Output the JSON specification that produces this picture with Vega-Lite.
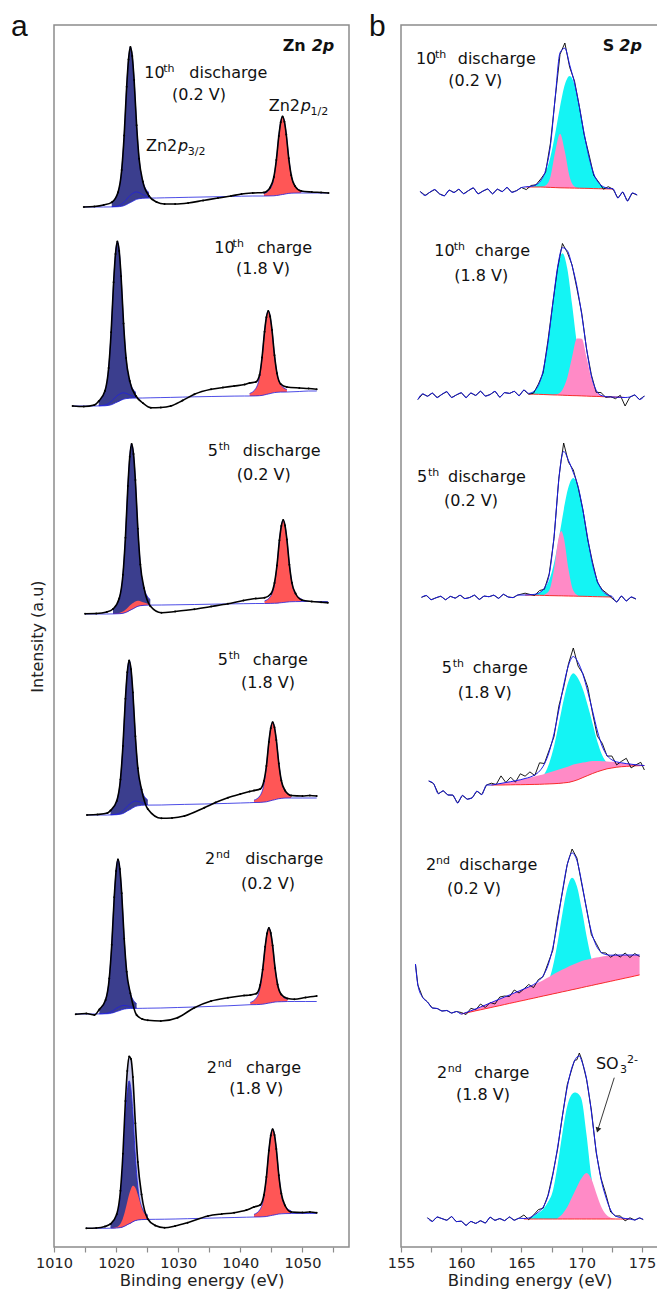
{
"$schema": "https://vega.github.io/schema/vega-lite/v6.json",
"padding": {"left": 10, "top": 11, "right": 0, "bottom": 0},
"bounds": "flush",
"spacing": 52,
"config": {
 "font": "DejaVu Sans",
 "view": {"stroke": "#8c8c8c", "strokeWidth": 1.5},
 "area": {"opacity": 1, "fillOpacity": 1},
 "axisX": {"grid": false, "domain": false, "tickColor": "#8c8c8c", "tickSize": 5, "tickWidth": 1.2, "labelFont": "DejaVu Sans", "labelFontSize": 14.5, "labelColor": "#222", "labelPadding": 4, "labelFlush": false, "labelOverlap": false, "titleFont": "DejaVu Sans", "titleFontSize": 16.5, "titleFontWeight": "normal", "titleColor": "#222", "titlePadding": 3},
 "axisY": {"grid": false, "domain": false, "ticks": false, "labels": false, "titleFont": "DejaVu Sans", "titleFontSize": 16, "titleFontWeight": "normal", "titleColor": "#222", "titlePadding": 9}
},
"datasets": {
"zn": [
{"k":1,"x":1014.8,"d":1040,"g":1040},{"k":1,"x":1016.5,"d":1040.5,"g":1040},{"k":1,"x":1018,"d":1042,"g":1040},
{"k":1,"x":1019.3,"d":1044.7,"g":1040.1,"c":1044.7,"m":1040.3},{"k":1,"x":1020.3,"d":1054.6,"g":1040.3,"c":1054.6,"m":1041.2},
{"k":1,"x":1020.9,"d":1076.9,"g":1040.7,"c":1076.9,"m":1043},{"k":1,"x":1021.3,"d":1111.6,"g":1041.4,"c":1111.6,"m":1045},
{"k":1,"x":1021.7,"d":1160.2,"g":1042.5,"c":1160.2,"m":1047.8},{"k":1,"x":1022,"d":1187.6,"g":1043.6,"c":1187.6,"m":1050},
{"k":1,"x":1022.3,"d":1199.9,"g":1044.5,"c":1199.9,"m":1051.9},{"k":1,"x":1022.6,"d":1190.9,"g":1045.4,"c":1190.9,"m":1053.3},
{"k":1,"x":1022.9,"d":1166.9,"g":1046.5,"c":1166.9,"m":1054.4},{"k":1,"x":1023.3,"d":1121.7,"g":1047.7,"c":1121.7,"m":1055.1},
{"k":1,"x":1023.7,"d":1088.3,"g":1048.3,"c":1088.3,"m":1054.3},{"k":1,"x":1024.3,"d":1065.6,"g":1048.7,"c":1065.6,"m":1052.3},
{"k":1,"x":1025.3,"d":1051,"g":1048.9,"c":1054.3,"m":1049.8},
{"k":1,"x":1026.5,"d":1045,"g":1049},{"k":1,"x":1027.8,"d":1043,"g":1049.2},{"k":1,"x":1029.5,"d":1043,"g":1049.4},
{"k":1,"x":1031.6,"d":1044,"g":1049.7},{"k":1,"x":1034,"d":1046.5,"g":1050},{"k":1,"x":1036.4,"d":1049,"g":1050.3},
{"k":1,"x":1038.5,"d":1051,"g":1050.6},{"k":1,"x":1040.2,"d":1053,"g":1050.8},{"k":1,"x":1042,"d":1054,"g":1051},
{"k":1,"x":1043.8,"d":1054.5,"g":1051,"r":1053.3},{"k":1,"x":1044.8,"d":1059.5,"g":1051.1,"r":1058.1},
{"k":1,"x":1045.4,"d":1070,"g":1051.2,"r":1069.1},{"k":1,"x":1045.8,"d":1087,"g":1051.5,"r":1086.6},
{"k":1,"x":1046.2,"d":1111.1,"g":1051.8,"r":1111.1},{"k":1,"x":1046.5,"d":1124.7,"g":1052.2,"r":1124.7},
{"k":1,"x":1046.8,"d":1130.5,"g":1052.5,"r":1130.5},{"k":1,"x":1047.1,"d":1125.3,"g":1052.8,"r":1125.3},
{"k":1,"x":1047.4,"d":1112.5,"g":1053.2,"r":1112.5},{"k":1,"x":1047.8,"d":1088.7,"g":1053.6,"r":1088.7},
{"k":1,"x":1048.2,"d":1071.7,"g":1053.8,"r":1071.7},{"k":1,"x":1048.8,"d":1060.9,"g":1053.9,"r":1060.9},
{"k":1,"x":1049.8,"d":1056,"g":1054,"r":1056.3},{"k":1,"x":1051.5,"d":1055,"g":1054},{"k":1,"x":1053,"d":1054.5,"g":1054},{"k":1,"x":1054.2,"d":1054,"g":1054},

{"k":2,"x":1013,"d":841,"g":841},{"k":2,"x":1014.8,"d":840.5,"g":841},{"k":2,"x":1016.5,"d":842,"g":841},
{"k":2,"x":1017.2,"d":845.8,"g":841.1,"c":845.8,"m":841.2},{"k":2,"x":1018.2,"d":855.9,"g":841.2,"c":855.9,"m":842},
{"k":2,"x":1018.8,"d":879,"g":841.6,"c":879,"m":843.6},{"k":2,"x":1019.2,"d":914.7,"g":842.2,"c":914.7,"m":845.4},
{"k":2,"x":1019.6,"d":964.8,"g":843.2,"c":964.8,"m":847.8},{"k":2,"x":1019.9,"d":993,"g":844.2,"c":993,"m":849.8},
{"k":2,"x":1020.2,"d":1005.4,"g":845,"c":1005.4,"m":851.4},{"k":2,"x":1020.5,"d":995.9,"g":845.8,"c":995.9,"m":852.7},
{"k":2,"x":1020.8,"d":970.7,"g":846.8,"c":970.7,"m":853.7},{"k":2,"x":1021.2,"d":923.5,"g":847.8,"c":923.5,"m":854.2},
{"k":2,"x":1021.6,"d":889.1,"g":848.4,"c":889.1,"m":853.7},{"k":2,"x":1022.2,"d":865.9,"g":848.8,"c":865.9,"m":852},
{"k":2,"x":1023.2,"d":851,"g":848.9,"c":854.3,"m":849.7},
{"k":2,"x":1024.3,"d":844,"g":849},{"k":2,"x":1025.6,"d":839.3,"g":849.2},{"k":2,"x":1027.2,"d":839.5,"g":849.4},
{"k":2,"x":1028.8,"d":841,"g":849.6},{"k":2,"x":1030.7,"d":846.5,"g":849.9},{"k":2,"x":1032.6,"d":852.7,"g":850.2},
{"k":2,"x":1035.3,"d":857.7,"g":850.5},{"k":2,"x":1037.2,"d":859.5,"g":850.7},{"k":2,"x":1039,"d":861,"g":850.9},{"k":2,"x":1040.7,"d":862.5,"g":851},
{"k":2,"x":1041.5,"d":864,"g":851,"r":853.5},{"k":2,"x":1042.5,"d":865,"g":851.1,"r":858.6},
{"k":2,"x":1043.1,"d":872,"g":851.3,"r":870.4},{"k":2,"x":1043.5,"d":889.5,"g":851.6,"r":889},
{"k":2,"x":1043.9,"d":915.2,"g":852.1,"r":915.2},{"k":2,"x":1044.2,"d":929.8,"g":852.6,"r":929.8},
{"k":2,"x":1044.5,"d":936,"g":853,"r":936},{"k":2,"x":1044.8,"d":930.6,"g":853.4,"r":930.6},
{"k":2,"x":1045.1,"d":917,"g":853.9,"r":917},{"k":2,"x":1045.5,"d":891.8,"g":854.4,"r":891.8},
{"k":2,"x":1045.9,"d":873.8,"g":854.7,"r":873.8},{"k":2,"x":1046.5,"d":863,"g":854.9,"r":862.4},
{"k":2,"x":1047.5,"d":860,"g":855,"r":857.5},{"k":2,"x":1049.5,"d":859,"g":855.5},{"k":2,"x":1051,"d":858.5,"g":856},{"k":2,"x":1052.3,"d":857.7,"g":856},

{"k":3,"x":1015,"d":633.3,"g":633},{"k":3,"x":1016.8,"d":633.5,"g":633},{"k":3,"x":1018.5,"d":635,"g":633},
{"k":3,"x":1019.5,"d":638,"g":633.1,"c":638,"m":633.2},{"k":3,"x":1020.5,"d":648.4,"g":633.3,"c":648.4,"m":634},
{"k":3,"x":1021.1,"d":672.2,"g":633.7,"c":672.2,"m":635.4},{"k":3,"x":1021.5,"d":709.2,"g":634.4,"c":709.2,"m":637.2},
{"k":3,"x":1021.9,"d":761.1,"g":635.5,"c":761.1,"m":639.5},{"k":3,"x":1022.2,"d":790.2,"g":636.6,"c":790.2,"m":641.4},
{"k":3,"x":1022.5,"d":803,"g":637.5,"c":803,"m":643},{"k":3,"x":1022.8,"d":793.1,"g":638.4,"c":793.1,"m":644.3},
{"k":3,"x":1023.1,"d":767,"g":639.5,"c":767,"m":645.4},{"k":3,"x":1023.5,"d":718.2,"g":640.7,"c":718.2,"m":646.2},
{"k":3,"x":1023.9,"d":682.6,"g":641.3,"c":682.6,"m":645.8},{"k":3,"x":1024.5,"d":658.8,"g":641.7,"c":658.8,"m":644.4},
{"k":3,"x":1025.5,"d":641,"g":641.9,"c":647.4,"m":642.6},
{"k":3,"x":1027.3,"d":634.3,"g":642},{"k":3,"x":1029.5,"d":635.5,"g":642.2},{"k":3,"x":1032.6,"d":637.7,"g":642.5},
{"k":3,"x":1035.3,"d":640.5,"g":642.8},{"k":3,"x":1038,"d":643.3,"g":643.1},{"k":3,"x":1040.5,"d":646.5,"g":643.3},{"k":3,"x":1042.5,"d":648.5,"g":643.5},
{"k":3,"x":1043.9,"d":649.3,"g":643.5,"r":646},{"k":3,"x":1044.9,"d":653,"g":643.6,"r":651},
{"k":3,"x":1045.5,"d":664,"g":643.7,"r":662.7},{"k":3,"x":1045.9,"d":681.5,"g":643.8,"r":680.9},
{"k":3,"x":1046.3,"d":706.8,"g":644.1,"r":706.8},{"k":3,"x":1046.6,"d":721,"g":644.3,"r":721},
{"k":3,"x":1046.9,"d":727,"g":644.5,"r":727},{"k":3,"x":1047.2,"d":721.4,"g":644.7,"r":721.4},
{"k":3,"x":1047.5,"d":707.6,"g":644.9,"r":707.6},{"k":3,"x":1047.9,"d":682.3,"g":645.2,"r":682.3},
{"k":3,"x":1048.3,"d":664.3,"g":645.3,"r":664.3},{"k":3,"x":1048.9,"d":653.5,"g":645.4,"r":652.8},
{"k":3,"x":1049.9,"d":647,"g":645.5,"r":648},{"k":3,"x":1051.5,"d":645.5,"g":645.5},{"k":3,"x":1053,"d":644.8,"g":645.5},{"k":3,"x":1054.1,"d":644.3,"g":645.5},

{"k":4,"x":1015.3,"d":432,"g":432},{"k":4,"x":1017,"d":432.5,"g":432},{"k":4,"x":1018.6,"d":434,"g":432},
{"k":4,"x":1019.1,"d":436.5,"g":432.1,"c":436.5,"m":432.2},{"k":4,"x":1020.1,"d":446,"g":432.3,"c":446,"m":433},
{"k":4,"x":1020.7,"d":467.6,"g":432.8,"c":467.6,"m":434.5},{"k":4,"x":1021.1,"d":501.1,"g":433.5,"c":501.1,"m":436.3},
{"k":4,"x":1021.5,"d":548.2,"g":434.8,"c":548.2,"m":438.8},{"k":4,"x":1021.8,"d":574.7,"g":436,"c":574.7,"m":440.8},
{"k":4,"x":1022.1,"d":586.5,"g":437,"c":586.5,"m":442.5},{"k":4,"x":1022.4,"d":577.8,"g":438,"c":577.8,"m":443.9},
{"k":4,"x":1022.7,"d":554.5,"g":439.2,"c":554.5,"m":445.1},{"k":4,"x":1023.1,"d":510.8,"g":440.5,"c":510.8,"m":446},
{"k":4,"x":1023.5,"d":478.8,"g":441.2,"c":478.8,"m":445.7},{"k":4,"x":1024.1,"d":457.4,"g":441.7,"c":457.4,"m":444.4},
{"k":4,"x":1025.1,"d":438,"g":441.9,"c":446.9,"m":442.6},
{"k":4,"x":1027.3,"d":428.7,"g":442},{"k":4,"x":1029,"d":429,"g":442.3},{"k":4,"x":1031,"d":431,"g":442.6},
{"k":4,"x":1034.2,"d":439.3,"g":443},{"k":4,"x":1036,"d":444.5,"g":443.3},{"k":4,"x":1038,"d":449.3,"g":443.6},
{"k":4,"x":1040,"d":453,"g":444},{"k":4,"x":1041.5,"d":455.5,"g":444.3},
{"k":4,"x":1042.2,"d":456.5,"g":444.5,"r":446.8},{"k":4,"x":1043.2,"d":458,"g":444.6,"r":451.6},
{"k":4,"x":1043.8,"d":466,"g":444.9,"r":462.8},{"k":4,"x":1044.2,"d":481,"g":445.2,"r":480.3},
{"k":4,"x":1044.6,"d":505.1,"g":445.8,"r":505.1},{"k":4,"x":1044.9,"d":518.8,"g":446.3,"r":518.8},
{"k":4,"x":1045.2,"d":524.8,"g":446.8,"r":524.8},{"k":4,"x":1045.5,"d":519.7,"g":447.2,"r":519.7},
{"k":4,"x":1045.8,"d":507,"g":447.7,"r":507},{"k":4,"x":1046.2,"d":483.4,"g":448.3,"r":483.4},
{"k":4,"x":1046.6,"d":466.5,"g":448.6,"r":466.5},{"k":4,"x":1047.2,"d":456.5,"g":448.9,"r":455.9},
{"k":4,"x":1048.2,"d":451.5,"g":449,"r":451.3},{"k":4,"x":1050,"d":451,"g":449},{"k":4,"x":1051.2,"d":451.5,"g":449},{"k":4,"x":1052.3,"d":451,"g":449},

{"k":5,"x":1013.5,"d":232.7,"g":233},{"k":5,"x":1015.2,"d":233.5,"g":233},{"k":5,"x":1016.5,"d":232,"g":233},
{"k":5,"x":1017.3,"d":237.6,"g":233.1,"c":237.6,"m":233.2},{"k":5,"x":1018.3,"d":246.9,"g":233.2,"c":246.9,"m":233.6},
{"k":5,"x":1018.9,"d":268.6,"g":233.4,"c":268.6,"m":234.6},{"k":5,"x":1019.3,"d":302.3,"g":233.9,"c":302.3,"m":235.7},
{"k":5,"x":1019.7,"d":349.7,"g":234.6,"c":349.7,"m":237.2},{"k":5,"x":1020,"d":376.1,"g":235.3,"c":376.1,"m":238.5},
{"k":5,"x":1020.3,"d":387.6,"g":235.9,"c":387.6,"m":239.6},{"k":5,"x":1020.6,"d":378.1,"g":236.5,"c":378.1,"m":240.5},
{"k":5,"x":1020.9,"d":353.7,"g":237.2,"c":353.7,"m":241.2},{"k":5,"x":1021.3,"d":308.2,"g":237.9,"c":308.2,"m":241.6},
{"k":5,"x":1021.7,"d":275.3,"g":238.3,"c":275.3,"m":241.3},{"k":5,"x":1022.3,"d":253.7,"g":238.6,"c":253.7,"m":240.4},
{"k":5,"x":1023.3,"d":232,"g":238.6,"c":243.4,"m":239},
{"k":5,"x":1024.2,"d":228,"g":238.7},{"k":5,"x":1025.1,"d":226.7,"g":238.8},{"k":5,"x":1027.2,"d":226,"g":239},
{"k":5,"x":1029.9,"d":229.3,"g":239.5},{"k":5,"x":1032.6,"d":239.3,"g":240},{"k":5,"x":1035.3,"d":246,"g":240.6},
{"k":5,"x":1038,"d":249.3,"g":241.2},{"k":5,"x":1040.6,"d":251.5,"g":242},
{"k":5,"x":1041.6,"d":252,"g":242.3,"r":244.6},{"k":5,"x":1042.6,"d":253.5,"g":242.4,"r":249.2},
{"k":5,"x":1043.2,"d":262,"g":242.6,"r":259.9},{"k":5,"x":1043.6,"d":277.5,"g":242.8,"r":276.6},
{"k":5,"x":1044,"d":300.2,"g":243.2,"r":300.2},{"k":5,"x":1044.3,"d":313.4,"g":243.6,"r":313.4},
{"k":5,"x":1044.6,"d":318.9,"g":243.9,"r":318.9},{"k":5,"x":1044.9,"d":314,"g":244.2,"r":314},
{"k":5,"x":1045.2,"d":301.6,"g":244.6,"r":301.6},{"k":5,"x":1045.6,"d":278.8,"g":245,"r":278.8},
{"k":5,"x":1046,"d":262.5,"g":245.2,"r":262.5},{"k":5,"x":1046.6,"d":252.5,"g":245.3,"r":252.1},
{"k":5,"x":1047.6,"d":248.5,"g":245.5,"r":247.8},{"k":5,"x":1048.7,"d":247.7,"g":245.5},{"k":5,"x":1050.5,"d":249.5,"g":245.5},{"k":5,"x":1052.3,"d":251,"g":245.5},

{"k":6,"x":1015.2,"d":18.7,"g":18.7},{"k":6,"x":1016.8,"d":19,"g":18.7},{"k":6,"x":1018.2,"d":20.5,"g":18.7},
{"k":6,"x":1019.1,"d":23.1,"g":18.8,"c":23.1,"m":18.8},{"k":6,"x":1020.1,"d":32.8,"g":19,"c":31.9,"m":19.9},
{"k":6,"x":1020.7,"d":56.2,"g":19.4,"c":52.3,"m":23.3},{"k":6,"x":1021.1,"d":93.2,"g":20.1,"c":84.5,"m":28.8},
{"k":6,"x":1021.5,"d":146.1,"g":21.2,"c":129.9,"m":37.4},{"k":6,"x":1021.8,"d":176,"g":22.3,"c":155.3,"m":45.3},
{"k":6,"x":1022.1,"d":190.5,"g":23.2,"c":166.2,"m":52.7},{"k":6,"x":1022.4,"d":188,"g":24.1,"c":157.1,"m":58.3},
{"k":6,"x":1022.7,"d":169.9,"g":25.2,"c":133.9,"m":61.2},{"k":6,"x":1023.1,"d":123.7,"g":26.4,"c":90.8,"m":59.3},
{"k":6,"x":1023.5,"d":85.1,"g":27,"c":59.9,"m":52.2},{"k":6,"x":1024.1,"d":52.5,"g":27.4,"c":40.3,"m":39.6},
{"k":6,"x":1025.1,"d":28,"g":27.6,"c":31.9,"m":29.1},
{"k":6,"x":1026.3,"d":21.5,"g":27.7},{"k":6,"x":1027.8,"d":19.3,"g":27.8},{"k":6,"x":1029.5,"d":21,"g":28},
{"k":6,"x":1031.5,"d":24.3,"g":28.3},{"k":6,"x":1034.8,"d":31,"g":28.8},{"k":6,"x":1037,"d":33,"g":29.2},
{"k":6,"x":1039,"d":34.3,"g":29.5},{"k":6,"x":1041,"d":37,"g":29.8},
{"k":6,"x":1042.2,"d":40,"g":30,"r":32.6},{"k":6,"x":1043.2,"d":42,"g":30.1,"r":37.8},
{"k":6,"x":1043.8,"d":52,"g":30.3,"r":50.1},{"k":6,"x":1044.2,"d":70,"g":30.5,"r":69.2},
{"k":6,"x":1044.6,"d":96.4,"g":31,"r":96.4},{"k":6,"x":1044.9,"d":111.4,"g":31.4,"r":111.4},
{"k":6,"x":1045.2,"d":117.8,"g":31.8,"r":117.8},{"k":6,"x":1045.5,"d":112.1,"g":32.1,"r":112.1},
{"k":6,"x":1045.8,"d":97.9,"g":32.5,"r":97.9},{"k":6,"x":1046.2,"d":71.7,"g":33,"r":71.7},
{"k":6,"x":1046.6,"d":53.5,"g":33.2,"r":53},{"k":6,"x":1047.2,"d":41.5,"g":33.4,"r":41.1},
{"k":6,"x":1048.2,"d":35,"g":33.5,"r":36.1},{"k":6,"x":1050,"d":34.5,"g":33.5},{"k":6,"x":1051.2,"d":35,"g":33.5},{"k":6,"x":1052.3,"d":34.3,"g":33.5}
],
"s": [
{"k":7,"x":156.6,"d":1055.5,"f":1055.5},{"k":7,"x":157,"d":1051.6,"f":1051.6},{"k":7,"x":157.4,"d":1054.8,"f":1054.8},
{"k":7,"x":157.8,"d":1057.4,"f":1057.4},{"k":7,"x":158.2,"d":1053.1,"f":1053.1},{"k":7,"x":158.6,"d":1051.2,"f":1051.2},
{"k":7,"x":159,"d":1056.9,"f":1056.9},{"k":7,"x":159.4,"d":1054.5,"f":1054.5},{"k":7,"x":159.8,"d":1057.7,"f":1057.7},
{"k":7,"x":160.2,"d":1053.3,"f":1053.3},{"k":7,"x":160.6,"d":1056.4,"f":1056.4},{"k":7,"x":161,"d":1059.1,"f":1059.1},
{"k":7,"x":161.4,"d":1053.2,"f":1053.2},{"k":7,"x":161.8,"d":1055.9,"f":1055.9},{"k":7,"x":162.2,"d":1058,"f":1058},
{"k":7,"x":162.6,"d":1053.2,"f":1053.2},{"k":7,"x":163,"d":1057.8,"f":1057.8},{"k":7,"x":163.4,"d":1055.4,"f":1055.4},
{"k":7,"x":163.8,"d":1059.6,"f":1059.6},{"k":7,"x":164.2,"d":1054.7,"f":1054.7},{"k":7,"x":164.6,"d":1056.4,"f":1056.4},
{"k":7,"x":165,"d":1059.5,"f":1059.5},
{"k":7,"x":165.4,"d":1057.4,"f":1060.2,"g":1060,"c":1060.2},{"k":7,"x":165.8,"d":1061.5,"f":1060.7,"g":1060,"c":1060.7},
{"k":7,"x":166.2,"d":1062.2,"f":1062.2,"g":1060,"c":1062.2},{"k":7,"x":166.6,"d":1068,"f":1066.4,"g":1060,"c":1066.3,"r":1060.1},
{"k":7,"x":167,"d":1074.7,"f":1076.7,"g":1059.8,"c":1075.1,"r":1061.6},{"k":7,"x":167.4,"d":1103.6,"f":1101.2,"g":1059.6,"c":1090.1,"r":1070.1},
{"k":7,"x":167.8,"d":1149.1,"f":1149.9,"g":1059.4,"c":1113.5,"r":1095.4},{"k":7,"x":168.2,"d":1192.7,"f":1194.3,"g":1059.2,"c":1140.3,"r":1113.2},
{"k":7,"x":168.6,"d":1204,"f":1198.8,"g":1059.1,"c":1162.4,"r":1095.4},{"k":7,"x":169,"d":1179.7,"f":1182.1,"g":1059,"c":1171,"r":1070.1},
{"k":7,"x":169.4,"d":1166,"f":1164,"g":1058.9,"c":1162.4,"r":1060.6},{"k":7,"x":169.8,"d":1140.7,"f":1140.3,"g":1058.8,"c":1140.3,"r":1058.8},
{"k":7,"x":170.2,"d":1112.3,"f":1113.5,"g":1058.7,"c":1113.5},{"k":7,"x":170.6,"d":1092.5,"f":1090.1,"g":1058.6,"c":1090.1},
{"k":7,"x":171,"d":1071.5,"f":1073.1,"g":1058.4,"c":1073.1},{"k":7,"x":171.4,"d":1065.1,"f":1064.3,"g":1058.3,"c":1064.3},
{"k":7,"x":171.8,"d":1057.8,"f":1060.2,"g":1058.2,"c":1060.2},{"k":7,"x":172.2,"d":1060.3,"f":1058.7,"g":1058.1,"c":1058.7},
{"k":7,"x":172.6,"d":1057.8,"f":1058.2,"g":1058,"c":1058.2},
{"k":7,"x":173,"d":1049,"f":1049},{"k":7,"x":173.4,"d":1055,"f":1055},{"k":7,"x":173.8,"d":1046,"f":1046},
{"k":7,"x":174.2,"d":1054,"f":1054},{"k":7,"x":174.6,"d":1052,"f":1052},

{"k":8,"x":156.4,"d":847.5,"f":847.5},{"k":8,"x":156.8,"d":853.1,"f":853.1},{"k":8,"x":157.2,"d":850.8,"f":850.8},
{"k":8,"x":157.6,"d":853.9,"f":853.9},{"k":8,"x":158,"d":849.5,"f":849.5},{"k":8,"x":158.4,"d":852.7,"f":852.7},
{"k":8,"x":158.8,"d":855.3,"f":855.3},{"k":8,"x":159.2,"d":849.5,"f":849.5},{"k":8,"x":159.6,"d":852.1,"f":852.1},
{"k":8,"x":160,"d":854.2,"f":854.2},{"k":8,"x":160.4,"d":849.4,"f":849.4},{"k":8,"x":160.8,"d":854,"f":854},
{"k":8,"x":161.2,"d":851.6,"f":851.6},{"k":8,"x":161.6,"d":855.8,"f":855.8},{"k":8,"x":162,"d":850.9,"f":850.9},
{"k":8,"x":162.4,"d":852.5,"f":852.5},{"k":8,"x":162.8,"d":855.7,"f":855.7},{"k":8,"x":163.2,"d":849.8,"f":849.8},
{"k":8,"x":163.6,"d":854.4,"f":854.4},{"k":8,"x":164,"d":853.6,"f":853.6},{"k":8,"x":164.4,"d":855.7,"f":855.7},
{"k":8,"x":164.8,"d":851.3,"f":851.3},{"k":8,"x":165.2,"d":857,"f":857},
{"k":8,"x":165.6,"d":852.8,"f":853.6,"g":853,"c":853.6},{"k":8,"x":166,"d":853.8,"f":855.4,"g":852.8,"c":855.4},
{"k":8,"x":166.4,"d":862.8,"f":861.6,"g":852.7,"c":861.6},{"k":8,"x":166.8,"d":874.2,"f":876.6,"g":852.5,"c":876.6},
{"k":8,"x":167.2,"d":906.7,"f":904.7,"g":852.3,"c":904.7},{"k":8,"x":167.6,"d":943.9,"f":943.5,"g":852.1,"c":943.3,"r":852.3},
{"k":8,"x":168,"d":978.9,"f":980.1,"g":852,"c":979,"r":853.1},{"k":8,"x":168.4,"d":1003.5,"f":999.3,"g":851.8,"c":993.8,"r":857.3},
{"k":8,"x":168.8,"d":994.7,"f":996.3,"g":851.6,"c":978.6,"r":869.3},{"k":8,"x":169.2,"d":982,"f":981.2,"g":851.4,"c":942.6,"r":890},
{"k":8,"x":169.6,"d":958.4,"f":960.8,"g":851.3,"c":903.7,"r":908.4},{"k":8,"x":170,"d":933.9,"f":932.3,"g":851.1,"c":875.2,"r":908.2},
{"k":8,"x":170.4,"d":898,"f":898.4,"g":850.9,"c":859.8,"r":889.5},{"k":8,"x":170.8,"d":872.2,"f":871,"g":850.7,"c":853.3,"r":868.4},
{"k":8,"x":171.2,"d":854.7,"f":856.7,"g":850.6,"c":851.2,"r":856.1},{"k":8,"x":171.6,"d":854.4,"f":851.6,"g":850.4,"c":850.5,"r":851.5},
{"k":8,"x":172,"d":849.6,"f":850.4,"g":850.2,"r":850.4},{"k":8,"x":172.4,"d":850.4,"f":850,"g":850},
{"k":8,"x":172.8,"d":848.3,"f":849.9,"g":849.9},{"k":8,"x":173.2,"d":851.7,"f":849.7,"g":849.7},{"k":8,"x":173.6,"d":841,"f":849.5,"g":849.5},
{"k":8,"x":174,"d":850,"f":850},{"k":8,"x":174.4,"d":852,"f":852},{"k":8,"x":174.8,"d":847.5,"f":847.5},{"k":8,"x":175.2,"d":851,"f":851},

{"k":9,"x":156.7,"d":649.7,"f":649.7},{"k":9,"x":157.1,"d":651.5,"f":651.5},{"k":9,"x":157.5,"d":647.3,"f":647.3},
{"k":9,"x":157.9,"d":649.2,"f":649.2},{"k":9,"x":158.3,"d":650.7,"f":650.7},{"k":9,"x":158.7,"d":647.3,"f":647.3},
{"k":9,"x":159.1,"d":650.6,"f":650.6},{"k":9,"x":159.5,"d":648.9,"f":648.9},{"k":9,"x":159.9,"d":651.8,"f":651.8},
{"k":9,"x":160.3,"d":648.4,"f":648.4},{"k":9,"x":160.7,"d":649.5,"f":649.5},{"k":9,"x":161.1,"d":651.8,"f":651.8},
{"k":9,"x":161.5,"d":647.6,"f":647.6},{"k":9,"x":161.9,"d":650.9,"f":650.9},{"k":9,"x":162.3,"d":650.3,"f":650.3},
{"k":9,"x":162.7,"d":651.8,"f":651.8},{"k":9,"x":163.1,"d":648.7,"f":648.7},{"k":9,"x":163.5,"d":652.7,"f":652.7},
{"k":9,"x":163.9,"d":650,"f":650},{"k":9,"x":164.3,"d":649.4,"f":649.4},{"k":9,"x":164.7,"d":652,"f":652},
{"k":9,"x":165.3,"d":653.8,"f":652,"g":652,"c":652},{"k":9,"x":165.7,"d":652.6,"f":652.2,"g":651.9,"c":652.2},
{"k":9,"x":166.1,"d":651.6,"f":652.7,"g":651.8,"c":652.7},{"k":9,"x":166.5,"d":656.5,"f":654.4,"g":651.7,"c":654.4},
{"k":9,"x":166.9,"d":657.7,"f":659.1,"g":651.6,"c":658.6,"r":652.5},{"k":9,"x":167.3,"d":673.1,"f":672.4,"g":651.4,"c":666.9,"r":656.5},
{"k":9,"x":167.7,"d":708.4,"f":710.5,"g":651.3,"c":683.8,"r":677.7},{"k":9,"x":168.1,"d":768.8,"f":767.4,"g":651.2,"c":708.5,"r":709.9},
{"k":9,"x":168.3,"d":787.2,"f":787.6,"g":651.2,"c":722.6,"r":716},{"k":9,"x":168.5,"d":804,"f":795.6,"g":651.1,"c":736.7,"r":709.9},
{"k":9,"x":168.9,"d":784.8,"f":786.6,"g":651,"c":759.9,"r":677.7},{"k":9,"x":169.3,"d":777,"f":774.5,"g":650.9,"c":769,"r":656.5},
{"k":9,"x":169.7,"d":759.7,"f":760.4,"g":650.8,"c":759.9,"r":651.5},{"k":9,"x":170.1,"d":737.1,"f":736.7,"g":650.7,"c":736.7},
{"k":9,"x":170.5,"d":707.1,"f":708.5,"g":650.6,"c":708.5},{"k":9,"x":170.9,"d":684.6,"f":682.8,"g":650.4,"c":682.8},
{"k":9,"x":171.3,"d":664.8,"f":665.9,"g":650.3,"c":665.9},{"k":9,"x":171.7,"d":657.3,"f":656.6,"g":650.2,"c":656.6},
{"k":9,"x":172.1,"d":653.5,"f":652.4,"g":650.1,"c":652.4},{"k":9,"x":172.5,"d":648.9,"f":650.7,"g":650,"c":650.7},
{"k":9,"x":172.9,"d":645,"f":645},{"k":9,"x":173.3,"d":651,"f":651},{"k":9,"x":173.7,"d":646,"f":646},
{"k":9,"x":174.1,"d":650,"f":650},{"k":9,"x":174.5,"d":648,"f":648},

{"k":10,"x":157.3,"d":466,"f":466},{"k":10,"x":157.7,"d":463.5,"f":463.5},{"k":10,"x":158.1,"d":453.3,"f":453.3},
{"k":10,"x":158.5,"d":456.2,"f":456.2},{"k":10,"x":158.9,"d":452,"f":452},{"k":10,"x":159.3,"d":451.9,"f":451.9},
{"k":10,"x":159.7,"d":444,"f":444},{"k":10,"x":160.1,"d":451.6,"f":451.6},{"k":10,"x":160.5,"d":447.8,"f":447.8},
{"k":10,"x":160.9,"d":449.1,"f":449.1},{"k":10,"x":161.3,"d":455.8,"f":455.8},{"k":10,"x":161.7,"d":452.4,"f":452.4},
{"k":10,"x":162.1,"d":462,"f":462},
{"k":10,"x":162.5,"d":463.8,"f":462,"g":462,"r":462},{"k":10,"x":162.9,"d":462.5,"f":462.8,"g":462,"r":462.8},
{"k":10,"x":163.3,"d":471.1,"f":463.6,"g":462,"r":463.6},{"k":10,"x":163.7,"d":464.5,"f":464.5,"g":462.1,"r":464.5},
{"k":10,"x":164.1,"d":469.8,"f":465.3,"g":462.2,"r":465.3},{"k":10,"x":164.5,"d":464.8,"f":466.3,"g":462.3,"r":466.3},
{"k":10,"x":164.9,"d":473.2,"f":467.2,"g":462.3,"r":467.2},{"k":10,"x":165.3,"d":470.8,"f":468.5,"g":462.4,"r":468.3,"c":462.6},
{"k":10,"x":165.7,"d":475.1,"f":469.8,"g":462.5,"r":469.3,"c":463},{"k":10,"x":166.1,"d":471.4,"f":472.1,"g":462.6,"r":470.5,"c":464.2},
{"k":10,"x":166.5,"d":484.2,"f":475.9,"g":462.7,"r":471.7,"c":466.9},{"k":10,"x":166.9,"d":483.5,"f":483,"g":462.9,"r":473,"c":472.9},
{"k":10,"x":167.3,"d":496.9,"f":495.1,"g":463.1,"r":474.4,"c":483.8},{"k":10,"x":167.7,"d":510.4,"f":513.4,"g":463.3,"r":475.9,"c":500.8},
{"k":10,"x":168.1,"d":540.8,"f":537,"g":463.6,"r":477.4,"c":523.2},{"k":10,"x":168.5,"d":559.7,"f":561.9,"g":464.1,"r":479,"c":547},
{"k":10,"x":168.9,"d":583.1,"f":581.6,"g":464.6,"r":480.5,"c":565.7},{"k":10,"x":169.3,"d":599,"f":590.5,"g":465.8,"r":482.5,"c":573.8},
{"k":10,"x":169.7,"d":580.9,"f":584.6,"g":467.4,"r":483.5,"c":568.5},{"k":10,"x":170.1,"d":573.3,"f":572.5,"g":469.5,"r":484.5,"c":557.5},
{"k":10,"x":170.5,"d":559.8,"f":555.3,"g":471.5,"r":485.3,"c":541.5},{"k":10,"x":170.9,"d":533.8,"f":536,"g":473.5,"r":486,"c":523.5},
{"k":10,"x":171.3,"d":510.8,"f":516,"g":475.3,"r":486,"c":505.3},{"k":10,"x":171.7,"d":503.8,"f":500.8,"g":476.8,"r":485.8,"c":491.8},
{"k":10,"x":172.1,"d":490.9,"f":491.6,"g":478.2,"r":485.6,"c":484.2},{"k":10,"x":172.5,"d":491,"f":487.2,"g":479,"r":485.2,"c":481},
{"k":10,"x":172.9,"d":482.1,"f":485.1,"g":479.8,"r":484.6,"c":480.3},{"k":10,"x":173.3,"d":485.7,"f":484.2,"g":480.3,"r":484,"c":480.5},
{"k":10,"x":173.7,"d":488.7,"f":483.4,"g":480.6,"r":483.4},{"k":10,"x":174.1,"d":479.1,"f":482.8,"g":481,"r":482.8},
{"k":10,"x":174.5,"d":482.2,"f":482.2,"g":481.2,"r":482.2},{"k":10,"x":174.9,"d":484.7,"f":481.7,"g":481.4,"r":481.7},
{"k":10,"x":175.2,"d":477,"f":481.5,"g":481.5,"r":481.5},

{"k":11,"x":156.2,"d":283,"f":283},{"k":11,"x":156.4,"d":262,"f":262},{"k":11,"x":156.8,"d":249.5,"f":249.5},
{"k":11,"x":157.2,"d":245,"f":245},{"k":11,"x":157.6,"d":239,"f":239},{"k":11,"x":158,"d":238.5,"f":238.5},
{"k":11,"x":158.4,"d":236,"f":236},{"k":11,"x":158.8,"d":236.5,"f":236.5},{"k":11,"x":159.2,"d":234,"f":234},{"k":11,"x":159.6,"d":235.5,"f":235.5},
{"k":11,"x":160,"d":234.5,"f":233,"g":233,"r":233},{"k":11,"x":160.4,"d":232.5,"f":234.5,"g":234.1,"r":234.5},
{"k":11,"x":160.8,"d":238.7,"f":236.2,"g":235.1,"r":236.2},{"k":11,"x":161.2,"d":237.2,"f":238.2,"g":236.2,"r":238.2},
{"k":11,"x":161.6,"d":243,"f":240,"g":237.2,"r":240},{"k":11,"x":162,"d":239.5,"f":242,"g":238.3,"r":242},
{"k":11,"x":162.4,"d":244.5,"f":244,"g":239.3,"r":244},{"k":11,"x":162.8,"d":243,"f":246,"g":240.4,"r":246},
{"k":11,"x":163.2,"d":250,"f":248,"g":241.4,"r":248},{"k":11,"x":163.6,"d":251,"f":250,"g":242.5,"r":250},
{"k":11,"x":164,"d":250.5,"f":252,"g":243.6,"r":252},{"k":11,"x":164.4,"d":257,"f":254,"g":244.6,"r":254},
{"k":11,"x":164.8,"d":254,"f":256,"g":245.7,"r":256},{"k":11,"x":165.2,"d":258,"f":258,"g":246.7,"r":258},
{"k":11,"x":165.6,"d":262.5,"f":260,"g":247.8,"r":260},{"k":11,"x":166,"d":259.4,"f":262.4,"g":248.8,"r":262,"c":249.2},
{"k":11,"x":166.4,"d":267.4,"f":265.9,"g":249.9,"r":264.4,"c":251.4},{"k":11,"x":166.8,"d":270.4,"f":271.4,"g":251,"r":266.8,"c":255.6},
{"k":11,"x":167.2,"d":283.6,"f":281.6,"g":252,"r":269.4,"c":264.2},{"k":11,"x":167.6,"d":296.8,"f":299.3,"g":253.1,"r":272.2,"c":280.2},
{"k":11,"x":168,"d":328.9,"f":325.4,"g":254.1,"r":275,"c":304.5},{"k":11,"x":168.4,"d":354.9,"f":355.9,"g":255.2,"r":277.4,"c":333.7},
{"k":11,"x":168.8,"d":382.8,"f":382.3,"g":256.2,"r":279.8,"c":358.7},{"k":11,"x":169.2,"d":398,"f":394,"g":257.3,"r":282,"c":369.3},
{"k":11,"x":169.6,"d":389,"f":386.5,"g":258.3,"r":284,"c":360.8},{"k":11,"x":170,"d":363,"f":364.5,"g":259.4,"r":286,"c":337.9},
{"k":11,"x":170.4,"d":338.6,"f":337.6,"g":260.5,"r":287.2,"c":310.9},{"k":11,"x":170.8,"d":312.3,"f":315.3,"g":261.5,"r":288.2,"c":288.6},
{"k":11,"x":171.2,"d":303.6,"f":301.6,"g":262.6,"r":289.4,"c":274.8},{"k":11,"x":171.6,"d":294.3,"f":294.8,"g":263.6,"r":290.2,"c":268.2},
{"k":11,"x":172,"d":294,"f":292.5,"g":264.7,"r":291,"c":266.2},{"k":11,"x":172.4,"d":289.8,"f":291.8,"g":265.7,"r":291.4,"c":266.1},
{"k":11,"x":172.8,"d":293,"f":291.8,"g":266.8,"r":291.8},{"k":11,"x":173.2,"d":290,"f":292,"g":267.8,"r":292},
{"k":11,"x":173.6,"d":294,"f":292,"g":268.9,"r":292},{"k":11,"x":174,"d":289.5,"f":292,"g":269.9,"r":292},
{"k":11,"x":174.4,"d":293.5,"f":292,"g":271,"r":292},{"k":11,"x":174.8,"d":290.5,"f":292,"g":272.1,"r":292},

{"k":12,"x":157.2,"d":29.2,"f":29.2},{"k":12,"x":157.6,"d":25.6,"f":25.6},{"k":12,"x":158,"d":30,"f":30},
{"k":12,"x":158.4,"d":28.4,"f":28.4},{"k":12,"x":158.8,"d":26.8,"f":26.8},{"k":12,"x":159.2,"d":30.4,"f":30.4},
{"k":12,"x":159.6,"d":25.4,"f":25.4},{"k":12,"x":160,"d":25.8,"f":25.8},{"k":12,"x":160.4,"d":21.6,"f":21.6},
{"k":12,"x":160.8,"d":25.6,"f":25.6},{"k":12,"x":161.2,"d":23.6,"f":23.6},{"k":12,"x":161.6,"d":26.2,"f":26.2},
{"k":12,"x":162,"d":24,"f":24},{"k":12,"x":162.4,"d":29.8,"f":29.8},{"k":12,"x":162.8,"d":26.7,"f":26.7},
{"k":12,"x":163.2,"d":28.4,"f":28.4},{"k":12,"x":163.6,"d":26.4,"f":26.4},{"k":12,"x":164,"d":30,"f":30},
{"k":12,"x":164.4,"d":26.8,"f":26.8},{"k":12,"x":164.8,"d":28.8,"f":28.8},
{"k":12,"x":165.2,"d":32,"f":28.5,"g":28},{"k":12,"x":165.6,"d":27.4,"f":29,"g":28,"c":28.5},
{"k":12,"x":166,"d":31.9,"f":31.5,"g":28,"c":31},{"k":12,"x":166.4,"d":37.4,"f":35,"g":28,"c":34},
{"k":12,"x":166.8,"d":38.8,"f":40,"g":28,"c":38},{"k":12,"x":167.2,"d":51.8,"f":51,"g":28,"c":45},
{"k":12,"x":167.6,"d":73.2,"f":72,"g":28,"c":56},{"k":12,"x":168,"d":98,"f":100,"g":28,"c":82,"r":29},
{"k":12,"x":168.4,"d":131.4,"f":131,"g":28,"c":114,"r":33},{"k":12,"x":168.8,"d":162.4,"f":160,"g":28,"c":141,"r":40},
{"k":12,"x":169.2,"d":178.8,"f":180,"g":28,"c":153,"r":50},{"k":12,"x":169.4,"d":186.6,"f":186,"g":28,"c":154.5,"r":55},
{"k":12,"x":169.6,"d":187.2,"f":190,"g":28,"c":154,"r":60},{"k":12,"x":169.8,"d":194,"f":191,"g":28,"c":152,"r":65},
{"k":12,"x":170,"d":187.6,"f":186,"g":28,"c":147,"r":69},{"k":12,"x":170.4,"d":167.6,"f":168,"g":28,"c":112,"r":74},
{"k":12,"x":170.8,"d":137,"f":135,"g":28,"c":70,"r":67.9},{"k":12,"x":171.2,"d":94.4,"f":96,"g":28,"c":45,"r":54},
{"k":12,"x":171.6,"d":68.8,"f":68,"g":28,"c":34,"r":40.8},{"k":12,"x":172,"d":52.8,"f":50,"g":28,"c":30,"r":32.7},
{"k":12,"x":172.4,"d":35,"f":37,"g":28,"c":28.5,"r":29.3},{"k":12,"x":172.8,"d":31,"f":31,"g":28,"r":28.3},
{"k":12,"x":173.2,"d":31.1,"f":29.5,"g":28},{"k":12,"x":173.6,"d":26.1,"f":28.5,"g":28},{"k":12,"x":174,"d":29.2,"f":28,"g":28},
{"k":12,"x":174.4,"d":27,"f":27},{"k":12,"x":174.8,"d":29,"f":29},{"k":12,"x":175.1,"d":27.5,"f":27.5}
],
"lab": [
{"p":"a","x":1003.08,"y":1211,"t":"a","s":"big"},
{"p":"a","x":1024.54,"y":1168.7,"t":"10","s":"n"},{"p":"a","x":1027.6,"y":1168.7,"t":"th","s":"sup"},{"p":"a","x":1031.79,"y":1168.7,"t":"discharge","s":"n"},{"p":"a","x":1029.0,"y":1147.5,"t":"(0.2 V)","s":"n"},
{"p":"a","x":1024.81,"y":1096,"t":"Zn2","s":"n"},{"p":"a","x":1029.97,"y":1096,"t":"p","s":"it"},{"p":"a","x":1031.55,"y":1096,"t":"3/2","s":"sub"},
{"p":"a","x":1044.57,"y":1136,"t":"Zn2","s":"n"},{"p":"a","x":1049.73,"y":1136,"t":"p","s":"it"},{"p":"a","x":1051.3,"y":1136,"t":"1/2","s":"sub"},
{"p":"a","x":1046.83,"y":1196,"t":"Zn","s":"bd"},{"p":"a","x":1051.5,"y":1196,"t":"2p","s":"bi"},
{"p":"a","x":1035.81,"y":994.3,"t":"10","s":"n"},{"p":"a","x":1038.76,"y":994.3,"t":"th","s":"sup"},{"p":"a","x":1042.69,"y":994.3,"t":"charge","s":"n"},{"p":"a","x":1039.31,"y":973.3,"t":"(1.8 V)","s":"n"},
{"p":"a","x":1034.75,"y":791,"t":"5","s":"n"},{"p":"a","x":1036.52,"y":791,"t":"th","s":"sup"},{"p":"a","x":1040.39,"y":791,"t":"discharge","s":"n"},{"p":"a","x":1039.42,"y":767,"t":"(0.2 V)","s":"n"},
{"p":"a","x":1036.36,"y":581.7,"t":"5","s":"n"},{"p":"a","x":1038.13,"y":581.7,"t":"th","s":"sup"},{"p":"a","x":1042.0,"y":581.7,"t":"charge","s":"n"},{"p":"a","x":1040.11,"y":559.3,"t":"(1.8 V)","s":"n"},
{"p":"a","x":1034.32,"y":382.7,"t":"2","s":"n"},{"p":"a","x":1036.09,"y":382.7,"t":"nd","s":"sup"},{"p":"a","x":1040.81,"y":382.7,"t":"discharge","s":"n"},{"p":"a","x":1040.11,"y":358.3,"t":"(0.2 V)","s":"n"},
{"p":"a","x":1034.59,"y":174.3,"t":"2","s":"n"},{"p":"a","x":1036.36,"y":174.3,"t":"nd","s":"sup"},{"p":"a","x":1040.92,"y":174.3,"t":"charge","s":"n"},{"p":"a","x":1038.23,"y":152.7,"t":"(1.8 V)","s":"n"},
{"p":"b","x":152.34,"y":1211,"t":"b","s":"big"},
{"p":"b","x":156.24,"y":1182.7,"t":"10","s":"n"},{"p":"b","x":157.82,"y":1182.7,"t":"th","s":"sup"},{"p":"b","x":159.71,"y":1182.7,"t":"discharge","s":"n"},{"p":"b","x":158.93,"y":1161,"t":"(0.2 V)","s":"n"},
{"p":"b","x":171.74,"y":1196,"t":"S","s":"bd"},{"p":"b","x":173.12,"y":1196,"t":"2p","s":"bi"},
{"p":"b","x":157.76,"y":991,"t":"10","s":"n"},{"p":"b","x":159.37,"y":991,"t":"th","s":"sup"},{"p":"b","x":161.14,"y":991,"t":"charge","s":"n"},{"p":"b","x":159.42,"y":966,"t":"(1.8 V)","s":"n"},
{"p":"b","x":156.33,"y":765,"t":"5","s":"n"},{"p":"b","x":157.24,"y":765,"t":"th","s":"sup"},{"p":"b","x":158.9,"y":765,"t":"discharge","s":"n"},{"p":"b","x":158.57,"y":741,"t":"(0.2 V)","s":"n"},
{"p":"b","x":158.38,"y":574.3,"t":"5","s":"n"},{"p":"b","x":159.29,"y":574.3,"t":"th","s":"sup"},{"p":"b","x":160.95,"y":574.3,"t":"charge","s":"n"},{"p":"b","x":159.71,"y":548.7,"t":"(1.8 V)","s":"n"},
{"p":"b","x":157.07,"y":376.7,"t":"2","s":"n"},{"p":"b","x":157.9,"y":376.7,"t":"nd","s":"sup"},{"p":"b","x":159.84,"y":376.7,"t":"discharge","s":"n"},{"p":"b","x":158.82,"y":353,"t":"(0.2 V)","s":"n"},
{"p":"b","x":157.99,"y":169.3,"t":"2","s":"n"},{"p":"b","x":158.88,"y":169.3,"t":"nd","s":"sup"},{"p":"b","x":161.08,"y":169.3,"t":"charge","s":"n"},{"p":"b","x":159.56,"y":146.7,"t":"(1.8 V)","s":"n"},
{"p":"b","x":171.18,"y":177.7,"t":"SO","s":"n"},{"p":"b","x":173.18,"y":177.7,"t":"3","s":"sub"},{"p":"b","x":173.76,"y":177.7,"t":"2-","s":"sup"}
],
"arr": [{"x":171.33,"y":117,"x2":172.7,"y2":169.3}]
},
"hconcat": [
{
 "width": 295, "height": 1222,
 "encoding": {"x": {"field": "x", "type": "quantitative", "scale": {"domain": [1010, 1057.5], "nice": false, "zero": false}, "title": "Binding energy (eV)", "axis": {"values": [1010,1015,1020,1025,1030,1035,1040,1045,1050,1055], "format": "d", "labelExpr": "datum.value % 10 == 0 ? datum.label : ''"}}},
 "layer": [
  {"data": {"name": "zn"}, "transform": [{"filter": "datum.k == 6 && isValid(datum.c)"}], "mark": {"type": "area", "color": "#c6c6ea", "opacity": 1, "interpolate": "monotone"},
   "encoding": {"y": {"field": "d", "type": "quantitative", "scale": {"domain": [0, 1222], "nice": false, "zero": false}, "title": "Intensity (a.u)"}, "y2": {"field": "g"}, "detail": {"field": "k"}}},
  {"data": {"name": "zn"}, "transform": [{"filter": "isValid(datum.c)"}], "mark": {"type": "area", "color": "#3b3e8e", "opacity": 1, "interpolate": "monotone", "line": {"color": "#2020e0", "strokeWidth": 0.8}},
   "encoding": {"y": {"field": "c", "type": "quantitative", "scale": {"domain": [0, 1222], "nice": false, "zero": false}, "title": "Intensity (a.u)"}, "y2": {"field": "g"}, "detail": {"field": "k"}}},
  {"data": {"name": "zn"}, "transform": [{"filter": "(datum.k == 3 || datum.k == 6) && isValid(datum.m)"}], "mark": {"type": "area", "color": "#ff5656", "opacity": 1, "interpolate": "monotone"},
   "encoding": {"y": {"field": "m", "type": "quantitative", "scale": {"domain": [0, 1222], "nice": false, "zero": false}, "title": "Intensity (a.u)"}, "y2": {"field": "g"}, "detail": {"field": "k"}}},
  {"data": {"name": "zn"}, "transform": [{"filter": "datum.k != 3 && datum.k != 6 && isValid(datum.m)"}], "mark": {"type": "line", "color": "#2020e0", "strokeWidth": 0.8, "interpolate": "monotone"},
   "encoding": {"y": {"field": "m", "type": "quantitative", "scale": {"domain": [0, 1222], "nice": false, "zero": false}, "title": "Intensity (a.u)"}, "detail": {"field": "k"}}},
  {"data": {"name": "zn"}, "transform": [{"filter": "isValid(datum.r)"}], "mark": {"type": "area", "color": "#ff5656", "opacity": 1, "interpolate": "monotone", "line": {"color": "#2020e0", "strokeWidth": 0.8}},
   "encoding": {"y": {"field": "r", "type": "quantitative", "scale": {"domain": [0, 1222], "nice": false, "zero": false}, "title": "Intensity (a.u)"}, "y2": {"field": "g"}, "detail": {"field": "k"}}},
  {"data": {"name": "zn"}, "mark": {"type": "line", "color": "#2020e0", "strokeWidth": 0.8, "interpolate": "monotone"},
   "encoding": {"y": {"field": "g", "type": "quantitative", "scale": {"domain": [0, 1222], "nice": false, "zero": false}, "title": "Intensity (a.u)"}, "detail": {"field": "k"}}},
  {"data": {"name": "zn"}, "mark": {"type": "line", "color": "#000000", "strokeWidth": 1.6, "interpolate": "monotone", "point": {"filled": true, "size": 4, "color": "#000000"}},
   "encoding": {"y": {"field": "d", "type": "quantitative", "scale": {"domain": [0, 1222], "nice": false, "zero": false}, "title": "Intensity (a.u)"}, "detail": {"field": "k"}}},
  {"data": {"name": "lab"}, "transform": [{"filter": "datum.p == 'a' && datum.s == 'n'"}], "mark": {"type": "text", "align": "left", "baseline": "alphabetic", "font": "DejaVu Sans", "fontSize": 16, "color": "#111"},
   "encoding": {"y": {"field": "y", "type": "quantitative", "scale": {"domain": [0, 1222], "nice": false, "zero": false}, "title": "Intensity (a.u)"}, "text": {"field": "t"}}},
  {"data": {"name": "lab"}, "transform": [{"filter": "datum.p == 'a' && datum.s == 'sup'"}], "mark": {"type": "text", "align": "left", "baseline": "alphabetic", "font": "DejaVu Sans", "fontSize": 11, "dy": -6, "color": "#111"},
   "encoding": {"y": {"field": "y", "type": "quantitative", "scale": {"domain": [0, 1222], "nice": false, "zero": false}, "title": "Intensity (a.u)"}, "text": {"field": "t"}}},
  {"data": {"name": "lab"}, "transform": [{"filter": "datum.p == 'a' && datum.s == 'sub'"}], "mark": {"type": "text", "align": "left", "baseline": "alphabetic", "font": "DejaVu Sans", "fontSize": 11, "dy": 4, "color": "#111"},
   "encoding": {"y": {"field": "y", "type": "quantitative", "scale": {"domain": [0, 1222], "nice": false, "zero": false}, "title": "Intensity (a.u)"}, "text": {"field": "t"}}},
  {"data": {"name": "lab"}, "transform": [{"filter": "datum.p == 'a' && datum.s == 'it'"}], "mark": {"type": "text", "align": "left", "baseline": "alphabetic", "font": "DejaVu Sans", "fontSize": 16, "fontStyle": "italic", "color": "#111"},
   "encoding": {"y": {"field": "y", "type": "quantitative", "scale": {"domain": [0, 1222], "nice": false, "zero": false}, "title": "Intensity (a.u)"}, "text": {"field": "t"}}},
  {"data": {"name": "lab"}, "transform": [{"filter": "datum.p == 'a' && datum.s == 'bd'"}], "mark": {"type": "text", "align": "left", "baseline": "alphabetic", "font": "DejaVu Sans", "fontSize": 16, "fontWeight": "bold", "color": "#111"},
   "encoding": {"y": {"field": "y", "type": "quantitative", "scale": {"domain": [0, 1222], "nice": false, "zero": false}, "title": "Intensity (a.u)"}, "text": {"field": "t"}}},
  {"data": {"name": "lab"}, "transform": [{"filter": "datum.p == 'a' && datum.s == 'bi'"}], "mark": {"type": "text", "align": "left", "baseline": "alphabetic", "font": "DejaVu Sans", "fontSize": 16, "fontWeight": "bold", "fontStyle": "italic", "color": "#111"},
   "encoding": {"y": {"field": "y", "type": "quantitative", "scale": {"domain": [0, 1222], "nice": false, "zero": false}, "title": "Intensity (a.u)"}, "text": {"field": "t"}}},
  {"data": {"name": "lab"}, "transform": [{"filter": "datum.p == 'a' && datum.s == 'big'"}], "mark": {"type": "text", "align": "left", "baseline": "alphabetic", "font": "Liberation Sans", "fontSize": 30, "color": "#111"},
   "encoding": {"y": {"field": "y", "type": "quantitative", "scale": {"domain": [0, 1222], "nice": false, "zero": false}, "title": "Intensity (a.u)"}, "text": {"field": "t"}}}
 ]
},
{
 "width": 257, "height": 1222,
 "encoding": {"x": {"field": "x", "type": "quantitative", "scale": {"domain": [155, 176.33], "nice": false, "zero": false}, "title": "Binding energy (eV)", "axis": {"values": [155,157.5,160,162.5,165,167.5,170,172.5,175], "labelExpr": "datum.value % 5 == 0 ? datum.label : ''"}}},
 "layer": [
  {"data": {"name": "s"}, "transform": [{"filter": "isValid(datum.c)"}], "mark": {"type": "area", "color": "#14f4f4", "opacity": 1, "interpolate": "monotone"},
   "encoding": {"y": {"field": "c", "type": "quantitative", "scale": {"domain": [0, 1222], "nice": false, "zero": false}, "axis": null}, "y2": {"field": "g"}, "detail": {"field": "k"}}},
  {"data": {"name": "s"}, "transform": [{"filter": "isValid(datum.r)"}], "mark": {"type": "area", "color": "#ff8ac6", "opacity": 1, "interpolate": "monotone"},
   "encoding": {"y": {"field": "r", "type": "quantitative", "scale": {"domain": [0, 1222], "nice": false, "zero": false}, "axis": null}, "y2": {"field": "g"}, "detail": {"field": "k"}}},
  {"data": {"name": "s"}, "transform": [{"filter": "isValid(datum.g)"}], "mark": {"type": "line", "color": "#ff2a2a", "strokeWidth": 1},
   "encoding": {"y": {"field": "g", "type": "quantitative", "scale": {"domain": [0, 1222], "nice": false, "zero": false}, "axis": null}, "detail": {"field": "k"}}},
  {"data": {"name": "s"}, "mark": {"type": "line", "color": "#000000", "strokeWidth": 0.9},
   "encoding": {"y": {"field": "d", "type": "quantitative", "scale": {"domain": [0, 1222], "nice": false, "zero": false}, "axis": null}, "detail": {"field": "k"}}},
  {"data": {"name": "s"}, "mark": {"type": "line", "color": "#1a1ae6", "strokeWidth": 1, "interpolate": "monotone"},
   "encoding": {"y": {"field": "f", "type": "quantitative", "scale": {"domain": [0, 1222], "nice": false, "zero": false}, "axis": null}, "detail": {"field": "k"}}},
  {"data": {"name": "arr"}, "mark": {"type": "rule", "color": "#222", "strokeWidth": 0.9},
   "encoding": {"y": {"field": "y", "type": "quantitative", "scale": {"domain": [0, 1222], "nice": false, "zero": false}, "axis": null}, "x2": {"field": "x2"}, "y2": {"field": "y2"}}},
  {"data": {"name": "arr"}, "mark": {"type": "point", "shape": "triangle-up", "angle": 197, "size": 35, "filled": true, "color": "#222", "opacity": 1},
   "encoding": {"y": {"field": "y", "type": "quantitative", "scale": {"domain": [0, 1222], "nice": false, "zero": false}, "axis": null}}},
  {"data": {"name": "lab"}, "transform": [{"filter": "datum.p == 'b' && datum.s == 'n'"}], "mark": {"type": "text", "align": "left", "baseline": "alphabetic", "font": "DejaVu Sans", "fontSize": 16, "color": "#111"},
   "encoding": {"y": {"field": "y", "type": "quantitative", "scale": {"domain": [0, 1222], "nice": false, "zero": false}, "axis": null}, "text": {"field": "t"}}},
  {"data": {"name": "lab"}, "transform": [{"filter": "datum.p == 'b' && datum.s == 'sup'"}], "mark": {"type": "text", "align": "left", "baseline": "alphabetic", "font": "DejaVu Sans", "fontSize": 11, "dy": -6, "color": "#111"},
   "encoding": {"y": {"field": "y", "type": "quantitative", "scale": {"domain": [0, 1222], "nice": false, "zero": false}, "axis": null}, "text": {"field": "t"}}},
  {"data": {"name": "lab"}, "transform": [{"filter": "datum.p == 'b' && datum.s == 'sub'"}], "mark": {"type": "text", "align": "left", "baseline": "alphabetic", "font": "DejaVu Sans", "fontSize": 11, "dy": 4, "color": "#111"},
   "encoding": {"y": {"field": "y", "type": "quantitative", "scale": {"domain": [0, 1222], "nice": false, "zero": false}, "axis": null}, "text": {"field": "t"}}},
  {"data": {"name": "lab"}, "transform": [{"filter": "datum.p == 'b' && datum.s == 'bd'"}], "mark": {"type": "text", "align": "left", "baseline": "alphabetic", "font": "DejaVu Sans", "fontSize": 16, "fontWeight": "bold", "color": "#111"},
   "encoding": {"y": {"field": "y", "type": "quantitative", "scale": {"domain": [0, 1222], "nice": false, "zero": false}, "axis": null}, "text": {"field": "t"}}},
  {"data": {"name": "lab"}, "transform": [{"filter": "datum.p == 'b' && datum.s == 'bi'"}], "mark": {"type": "text", "align": "left", "baseline": "alphabetic", "font": "DejaVu Sans", "fontSize": 16, "fontWeight": "bold", "fontStyle": "italic", "color": "#111"},
   "encoding": {"y": {"field": "y", "type": "quantitative", "scale": {"domain": [0, 1222], "nice": false, "zero": false}, "axis": null}, "text": {"field": "t"}}},
  {"data": {"name": "lab"}, "transform": [{"filter": "datum.p == 'b' && datum.s == 'big'"}], "mark": {"type": "text", "align": "left", "baseline": "alphabetic", "font": "Liberation Sans", "fontSize": 30, "color": "#111"},
   "encoding": {"y": {"field": "y", "type": "quantitative", "scale": {"domain": [0, 1222], "nice": false, "zero": false}, "axis": null}, "text": {"field": "t"}}}
 ]
}
]
}
